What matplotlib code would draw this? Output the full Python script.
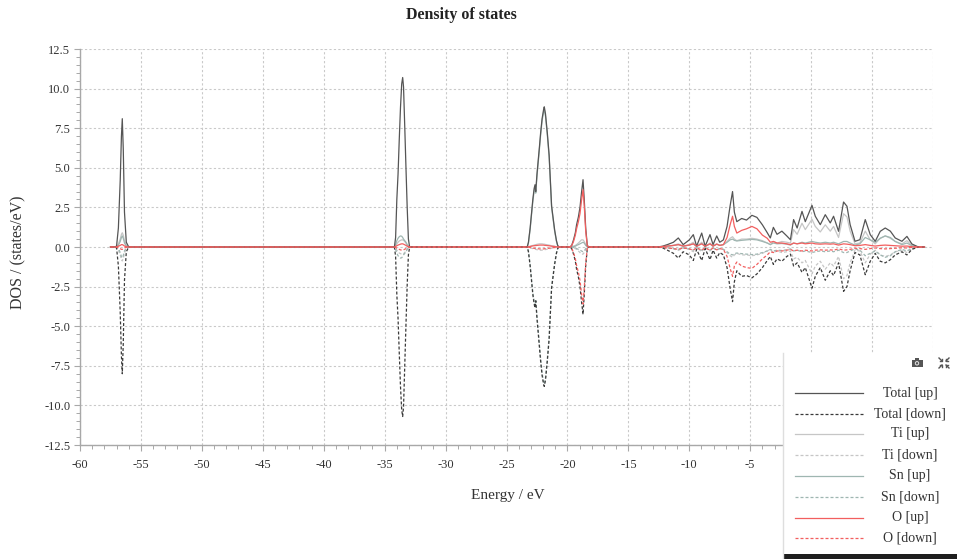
import numpy as np
import matplotlib
matplotlib.use("Agg")
import matplotlib.pyplot as plt
from matplotlib.patches import Rectangle, Circle
from matplotlib.colors import LinearSegmentedColormap
from matplotlib.ticker import MultipleLocator, FuncFormatter

plt.rcParams['font.family'] = ['Liberation Serif', 'DejaVu Serif']

# ---------------------------------------------------------------------------
# Spin-resolved density of states (states/eV); rows follow the energy windows:
# Ti 3s, Ti 3p, Sn 4d, O 2s and the valence/conduction region.
# ---------------------------------------------------------------------------
ENERGY = [
    -57.5,
    -57.2, -57.0, -56.85, -56.7, -56.6, -56.53, -56.45, -56.35, -56.2, -56.0,
    -34.2, -34.1, -34.0, -33.9, -33.8, -33.7, -33.6, -33.52, -33.45, -33.35, -33.25, -33.15, -33.05, -32.95,
    -23.3, -23.2, -23.06, -22.95, -22.84, -22.73, -22.66, -22.6, -22.5, -22.3, -22.2, -22.08, -21.95, -21.9,
    -21.8, -21.65, -21.5, -21.3, -21.05, -20.9, -20.8, -20.7,
    -19.8, -19.65, -19.5, -19.35, -19.25, -19.1, -18.97, -18.85, -18.72, -18.62, -18.5, -18.37, -18.25,
    -12.6, -12.2, -11.8, -11.3, -10.9, -10.5, -10.0, -9.67, -9.4, -8.98, -8.7, -8.3, -8.05, -7.75, -7.5,
    -7.2, -6.9, -6.65, -6.45, -6.3, -6.1, -5.7, -5.3, -4.86, -4.45, -4.0, -3.6, -3.35, -3.1, -2.8,
    -2.4, -2.0, -1.7, -1.44, -1.15, -0.75, -0.48, 0.07, 0.34, 0.75, 1.16, 1.57, 1.84, 2.25, 2.66,
    2.94, 3.2, 3.6, 4.0, 4.44, 4.85, 5.26, 5.67, 6.08, 6.5, 6.9, 7.45, 7.86, 8.27, 8.8,
    9.3,
]

TOTAL_UP = [
    0,
    0, 0.05, 1.2, 4.2, 7.0, 8.1, 6.2, 2.2, 0.3, 0,
    0, 0.6, 3.0, 4.6, 6.8, 8.8, 10.3, 10.7, 10.1, 7.6, 5.0, 2.5, 0.5, 0,
    0, 0.3, 1.2, 2.1, 3.0, 3.7, 3.93, 3.5, 4.6, 6.3, 7.2, 8.1, 8.7, 8.85,
    8.4, 7.2, 5.8, 2.6, 1.08, 0.4, 0.1, 0,
    0, 0.1, 0.45, 0.9, 1.4, 1.9, 2.5, 3.4, 4.25, 3.0, 1.2, 0.1, 0,
    0, 0.05, 0.15, 0.3, 0.57, 0.15, 0.45, 0.78, 0.05, 0.88, 0.05, 0.78, 0.15, 0.7, 0.3,
    0.45, 1.3, 2.6, 3.5, 2.2, 1.6, 1.8, 1.7, 2.0, 1.87, 1.4, 0.9, 0.57, 1.24, 0.8,
    1.0, 0.7, 0.46, 1.73, 1.2, 2.25, 1.6, 2.63, 1.94, 1.41, 2.04, 1.52, 1.94, 0.99, 2.84,
    2.57, 1.41, 0.36, 0.46, 1.73, 0.78, 0.36, 0.99, 1.2, 1.0, 0.57, 0.36, 0.67, 0.19, 0,
    0,
]

TOTAL_DOWN = [
    0,
    0, -0.05, -1.2, -4.1, -6.9, -8.0, -6.1, -2.1, -0.3, 0,
    0, -0.6, -3.0, -4.5, -6.7, -8.8, -10.3, -10.7, -10.1, -7.5, -4.9, -2.4, -0.5, 0,
    0, -0.3, -1.2, -2.1, -3.0, -3.6, -3.85, -3.4, -4.5, -6.3, -7.2, -8.1, -8.7, -8.8,
    -8.4, -7.2, -5.8, -2.6, -1.1, -0.4, -0.1, 0,
    0, -0.1, -0.45, -0.9, -1.4, -1.9, -2.5, -3.4, -4.25, -3.0, -1.2, -0.1, 0,
    0, -0.05, -0.2, -0.4, -0.7, -0.3, -0.5, -0.85, -0.15, -0.85, -0.1, -0.8, -0.2, -0.7, -0.35,
    -0.5, -1.3, -2.6, -3.45, -2.2, -1.5, -1.85, -1.8, -1.95, -1.7, -1.3, -0.85, -0.6, -1.1, -0.75,
    -0.9, -0.6, -0.45, -1.2, -1.0, -1.6, -1.3, -2.6, -1.85, -1.3, -2.1, -1.5, -1.8, -1.0, -2.8,
    -2.5, -1.5, -0.35, -0.5, -1.75, -0.9, -0.4, -0.9, -1.0, -0.8, -0.5, -0.3, -0.5, -0.15, 0,
    0,
]

TI_UP = [
    0,
    0, 0.0, 0.2, 0.5, 0.8, 0.9, 0.75, 0.4, 0.1, 0,
    0, 0.08, 0.2, 0.3, 0.38, 0.42, 0.45, 0.45, 0.42, 0.35, 0.25, 0.12, 0.04, 0,
    0, 0.02, 0.05, 0.08, 0.1, 0.12, 0.14, 0.15, 0.17, 0.2, 0.2, 0.2, 0.18, 0.18,
    0.16, 0.14, 0.12, 0.08, 0.05, 0.02, 0.01, 0,
    0, 0, 0.05, 0.1, 0.15, 0.25, 0.35, 0.45, 0.45, 0.35, 0.15, 0.02, 0,
    0, 0.02, 0.05, 0.1, 0.2, 0.05, 0.15, 0.3, 0.02, 0.3, 0.02, 0.25, 0.05, 0.2, 0.1,
    0.15, 0.35, 0.55, 0.65, 0.5, 0.4, 0.5, 0.5, 0.55, 0.5, 0.4, 0.25, 0.15, 0.35, 0.25,
    0.35, 0.3, 0.25, 1.1, 0.8, 1.5, 1.1, 1.75, 1.3, 0.95, 1.4, 1.0, 1.3, 0.6, 2.1,
    1.9, 1.0, 0.2, 0.25, 1.0, 0.45, 0.2, 0.55, 0.7, 0.55, 0.35, 0.2, 0.4, 0.1, 0,
    0,
]

TI_DOWN = [
    0,
    0, 0.0, -0.2, -0.5, -0.8, -0.88, -0.72, -0.4, -0.1, 0,
    0, -0.08, -0.2, -0.3, -0.38, -0.42, -0.45, -0.45, -0.42, -0.35, -0.25, -0.12, -0.04, 0,
    0, -0.02, -0.05, -0.08, -0.1, -0.12, -0.14, -0.15, -0.17, -0.2, -0.2, -0.2, -0.18, -0.18,
    -0.16, -0.14, -0.12, -0.08, -0.05, -0.02, -0.01, 0,
    0, 0, -0.05, -0.1, -0.15, -0.25, -0.35, -0.45, -0.45, -0.35, -0.15, -0.02, 0,
    0, -0.02, -0.06, -0.12, -0.22, -0.06, -0.15, -0.3, -0.03, -0.3, -0.03, -0.25, -0.06, -0.2, -0.1,
    -0.15, -0.35, -0.55, -0.65, -0.5, -0.4, -0.5, -0.5, -0.55, -0.5, -0.4, -0.25, -0.15, -0.35, -0.25,
    -0.35, -0.3, -0.25, -0.75, -0.65, -1.0, -0.85, -1.7, -1.2, -0.9, -1.4, -1.0, -1.2, -0.6, -2.0,
    -1.8, -1.0, -0.2, -0.25, -1.0, -0.45, -0.2, -0.5, -0.6, -0.5, -0.3, -0.2, -0.35, -0.1, 0,
    0,
]

SN_UP = [
    0,
    0, 0.0, 0.1, 0.35, 0.6, 0.7, 0.55, 0.25, 0.05, 0,
    0, 0.15, 0.4, 0.55, 0.65, 0.7, 0.68, 0.6, 0.5, 0.4, 0.3, 0.15, 0.05, 0,
    0, 0.25, 1.1, 2.0, 2.85, 3.55, 3.8, 3.4, 4.45, 6.15, 7.05, 7.95, 8.55, 8.7,
    8.25, 7.05, 5.65, 2.5, 1.0, 0.35, 0.08, 0,
    0, 0, 0.03, 0.05, 0.1, 0.15, 0.2, 0.25, 0.3, 0.25, 0.1, 0.01, 0,
    0, 0.02, 0.05, 0.1, 0.15, 0.05, 0.12, 0.2, 0.03, 0.22, 0.03, 0.2, 0.05, 0.18, 0.1,
    0.15, 0.3, 0.45, 0.5, 0.42, 0.38, 0.42, 0.45, 0.48, 0.45, 0.35, 0.25, 0.15, 0.25, 0.2,
    0.22, 0.18, 0.12, 0.25, 0.2, 0.3, 0.25, 0.35, 0.3, 0.25, 0.3, 0.25, 0.3, 0.2, 0.35,
    0.35, 0.25, 0.12, 0.2, 0.6, 0.45, 0.3, 0.55, 0.7, 0.6, 0.35, 0.15, 0.25, 0.08, 0,
    0,
]

SN_DOWN = [
    0,
    0, 0.0, -0.1, -0.35, -0.6, -0.68, -0.55, -0.25, -0.05, 0,
    0, -0.15, -0.4, -0.55, -0.65, -0.7, -0.68, -0.6, -0.5, -0.4, -0.3, -0.15, -0.05, 0,
    0, -0.25, -1.1, -2.0, -2.85, -3.45, -3.72, -3.3, -4.35, -6.15, -7.05, -7.95, -8.55, -8.65,
    -8.25, -7.05, -5.65, -2.5, -1.0, -0.35, -0.08, 0,
    0, 0, -0.03, -0.05, -0.1, -0.15, -0.2, -0.25, -0.3, -0.25, -0.1, -0.01, 0,
    0, -0.02, -0.05, -0.1, -0.15, -0.05, -0.12, -0.2, -0.03, -0.2, -0.03, -0.2, -0.05, -0.18, -0.1,
    -0.15, -0.3, -0.45, -0.5, -0.42, -0.38, -0.42, -0.45, -0.48, -0.45, -0.35, -0.25, -0.15, -0.25, -0.2,
    -0.22, -0.18, -0.12, -0.25, -0.2, -0.3, -0.25, -0.35, -0.3, -0.25, -0.3, -0.25, -0.3, -0.2, -0.35,
    -0.35, -0.25, -0.12, -0.2, -0.55, -0.4, -0.25, -0.5, -0.65, -0.55, -0.3, -0.15, -0.25, -0.08, 0,
    0,
]

O_UP = [
    0,
    0, 0.0, 0.05, 0.1, 0.15, 0.15, 0.12, 0.06, 0.02, 0,
    0, 0.03, 0.08, 0.12, 0.15, 0.18, 0.2, 0.2, 0.18, 0.14, 0.1, 0.05, 0.02, 0,
    0, 0.01, 0.03, 0.05, 0.07, 0.08, 0.09, 0.09, 0.1, 0.12, 0.12, 0.12, 0.12, 0.11,
    0.1, 0.09, 0.08, 0.05, 0.03, 0.01, 0, 0,
    0, 0.08, 0.35, 0.75, 1.15, 1.6, 2.1, 2.9, 3.62, 2.6, 1.0, 0.08, 0,
    0, 0.03, 0.06, 0.1, 0.15, 0.06, 0.12, 0.2, 0.05, 0.2, 0.05, 0.2, 0.06, 0.18, 0.1,
    0.15, 0.6, 1.4, 1.94, 1.3, 0.88, 1.05, 1.15, 1.3, 1.15, 0.75, 0.55, 0.3, 0.35, 0.25,
    0.25, 0.2, 0.15, 0.25, 0.2, 0.25, 0.2, 0.25, 0.2, 0.18, 0.2, 0.18, 0.2, 0.12, 0.2,
    0.18, 0.15, 0.08, 0.1, 0.15, 0.1, 0.06, 0.1, 0.12, 0.1, 0.08, 0.05, 0.06, 0.02, 0,
    0,
]

O_DOWN = [
    0,
    0, 0.0, -0.05, -0.1, -0.15, -0.15, -0.12, -0.06, -0.02, 0,
    0, -0.03, -0.08, -0.12, -0.15, -0.18, -0.2, -0.2, -0.18, -0.14, -0.1, -0.05, -0.02, 0,
    0, -0.01, -0.03, -0.05, -0.07, -0.08, -0.09, -0.09, -0.1, -0.12, -0.12, -0.12, -0.12, -0.11,
    -0.1, -0.09, -0.08, -0.05, -0.03, -0.01, 0, 0,
    0, -0.08, -0.35, -0.75, -1.15, -1.6, -2.1, -2.9, -3.6, -2.6, -1.0, -0.08, 0,
    0, -0.03, -0.06, -0.1, -0.15, -0.06, -0.12, -0.2, -0.05, -0.2, -0.05, -0.2, -0.06, -0.18, -0.1,
    -0.15, -0.6, -1.35, -1.85, -1.2, -0.95, -1.2, -1.3, -1.35, -1.1, -0.75, -0.5, -0.3, -0.35, -0.25,
    -0.25, -0.2, -0.15, -0.25, -0.2, -0.25, -0.2, -0.25, -0.2, -0.18, -0.2, -0.18, -0.2, -0.12, -0.2,
    -0.18, -0.15, -0.08, -0.1, -0.15, -0.1, -0.06, -0.1, -0.12, -0.1, -0.08, -0.05, -0.06, -0.02, 0,
    0,
]

SERIES_LABELS = ['Total [up]', 'Total [down]', 'Ti [up]', 'Ti [down]',
                 'Sn [up]', 'Sn [down]', 'O [up]', 'O [down]']
SERIES_VALUES = [TOTAL_UP, TOTAL_DOWN, TI_UP, TI_DOWN, SN_UP, SN_DOWN, O_UP, O_DOWN]

DASH = (0, (2.4, 1.6))
STYLES = {
    'Total [up]':   dict(color='#555555', lw=0.9, ls='-'),
    'Total [down]': dict(color='#3a3a3a', lw=0.9, ls=DASH),
    'Ti [up]':      dict(color='#c6c6c6', lw=0.9, ls='-'),
    'Ti [down]':    dict(color='#c6c6c6', lw=0.9, ls=DASH),
    'Sn [up]':      dict(color='#9fb6b1', lw=0.9, ls='-'),
    'Sn [down]':    dict(color='#9fb6b1', lw=0.9, ls=DASH),
    'O [up]':       dict(color='#f25f5f', lw=0.9, ls='-'),
    'O [down]':     dict(color='#f25f5f', lw=0.9, ls=DASH),
}
# stacking: partial DOS under the total, oxygen on top
Z_ORDER = {'Ti': 3.0, 'Sn': 3.2, 'Total': 3.4, 'O': 3.6}

W, H = 957, 559
fig = plt.figure(figsize=(W / 100, H / 100), dpi=100)
fig.patch.set_facecolor('white')

left, right, top, bottom = 80, 933, 49, 445
ax = fig.add_axes([left / W, 1 - bottom / H, (right - left) / W, (bottom - top) / H])

energy = np.array(ENERGY)
for i, (label, values) in enumerate(zip(SERIES_LABELS, SERIES_VALUES)):
    z = Z_ORDER[label.split(' ')[0]] + (0.05 if 'down' in label else 0)
    ax.plot(energy, np.array(values), zorder=z, solid_joinstyle='round', **STYLES[label])

ax.set_xlim(-60, 10)
ax.set_ylim(-12.5, 12.5)
ax.xaxis.set_major_locator(MultipleLocator(5))
ax.xaxis.set_minor_locator(MultipleLocator(1))
ax.yaxis.set_major_locator(MultipleLocator(2.5))
ax.yaxis.set_minor_locator(MultipleLocator(0.5))
ax.yaxis.set_major_formatter(FuncFormatter(lambda v, p: f'{v:.1f}'))
# tick labels from 0 eV upward sit under the legend panel
ax.xaxis.set_major_formatter(FuncFormatter(lambda v, p: f'{v:.0f}' if v < -2 else ''))

ax.grid(True, which='major', color='#c9c9c9', linestyle=(0, (2, 2)), linewidth=0.8)
ax.set_axisbelow(True)
for side in ('top', 'right'):
    ax.spines[side].set_visible(False)
for side in ('left', 'bottom'):
    ax.spines[side].set_color('#a8a8a8')
    ax.spines[side].set_linewidth(1.0)

ax.tick_params(which='major', direction='out', length=4, width=0.8, color='#a8a8a8',
               labelsize=9, labelcolor='#333333', pad=3)
ax.tick_params(which='minor', direction='out', length=3, width=0.7, color='#a8a8a8')
ax.tick_params(axis='x', which='major', pad=6)

fig.text(461 / W, 1 - 15 / H, 'Density of states', ha='center', va='center',
         fontsize=11.5, fontweight='bold', color='#222222')
fig.text(508 / W, 1 - 495 / H, 'Energy / eV', ha='center', va='center',
         fontsize=11, color='#333333')
fig.text(18 / W, 1 - 252 / H, 'DOS / (states/eV)', ha='center', va='center',
         rotation=90, fontsize=11.5, color='#333333')

# Legend panel with its toolbar header, drawn in pixel coordinates
pax = fig.add_axes([0, 0, 1, 1], zorder=10)
pax.patch.set_alpha(0)
pax.axis('off')

px0, py0 = 783, 353
pax.add_patch(Rectangle((px0, py0), W - px0, H - py0, facecolor='white', edgecolor='none'))
pax.plot([px0, px0], [py0, H], color='#dedede', lw=1.0)
header_cmap = LinearSegmentedColormap.from_list('header', ['#f3f3f3', '#dadada'])
pax.imshow(np.linspace(0, 1, 24)[:, None], extent=(px0, W, py0 + 24, py0),
           cmap=header_cmap, aspect='auto', interpolation='bilinear')

# camera icon
pax.add_patch(Rectangle((911.5, 359.5), 11, 7.5, facecolor='#555555', edgecolor='none'))
pax.add_patch(Rectangle((914.5, 358), 4, 2, facecolor='#555555', edgecolor='none'))
pax.add_patch(Circle((917, 363.3), 2.2, facecolor='#e4e4e4', edgecolor='none'))
pax.add_patch(Circle((917, 363.3), 1.2, facecolor='#555555', edgecolor='none'))
# collapse icon: four arrows pointing inwards
cx, cy = 944, 363
for sx in (-1, 1):
    for sy in (-1, 1):
        pax.plot([cx + sx * 5, cx + sx * 2], [cy + sy * 5, cy + sy * 2], color='#555555', lw=1.0)
        pax.plot([cx + sx * 2, cx + sx * 2, cx + sx * 4],
                 [cy + sy * 4, cy + sy * 2, cy + sy * 2], color='#555555', lw=1.0)

row_y = [393, 414, 434, 455, 476, 497, 518, 538]
for label, y in zip(SERIES_LABELS, row_y):
    pax.plot([795, 863], [y, y], **STYLES[label])
    pax.text(910, y, label, ha='center', va='center', fontsize=10, color='#333333')

pax.add_patch(Rectangle((px0, H - 5), W - px0, 5, facecolor='#1e1e1e', edgecolor='none'))
pax.set_xlim(0, W)
pax.set_ylim(H, 0)

fig.savefig('out.png', dpi=100, facecolor='white')
